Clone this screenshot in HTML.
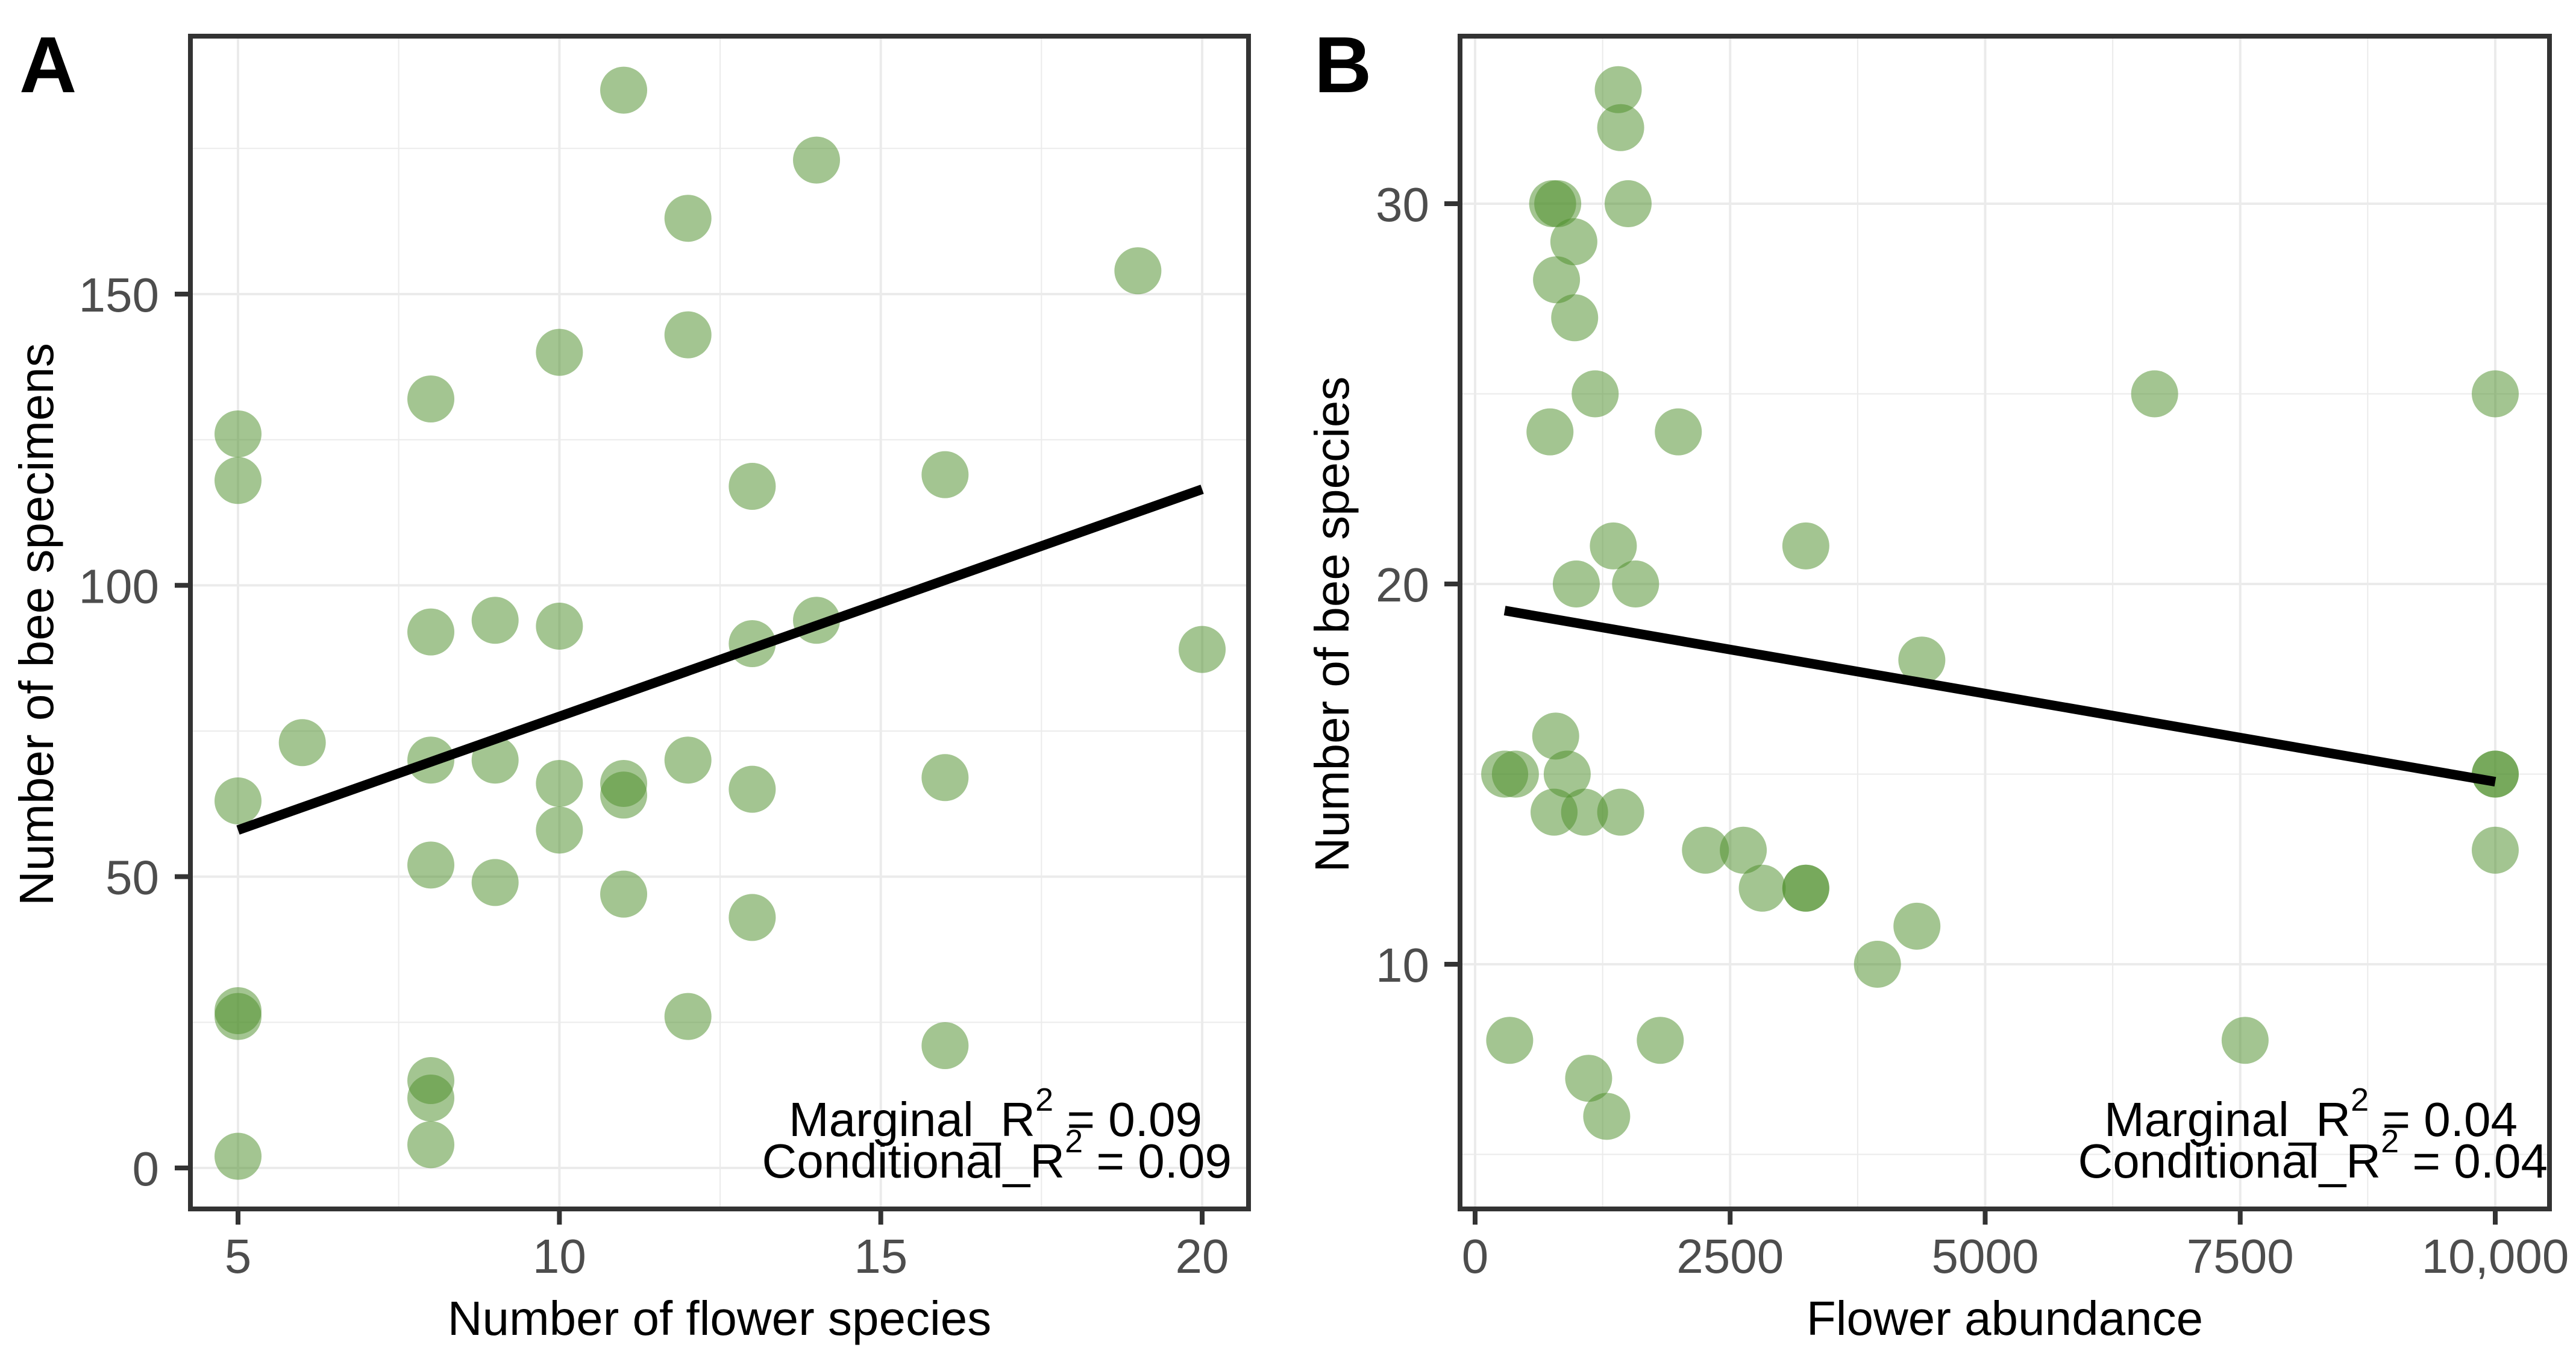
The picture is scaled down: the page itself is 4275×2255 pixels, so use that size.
<!DOCTYPE html>
<html><head><meta charset="utf-8"><style>
html,body{margin:0;padding:0;background:#fff;}
svg{display:block;font-family:"Liberation Sans",Arial,sans-serif;}
</style></head><body>
<svg id="chart" width="4275" height="2255" viewBox="0 0 4275 2255" xmlns="http://www.w3.org/2000/svg"></svg>
<script>
// Panel A data
const aFlowerSpecies = [11,14,12,19,12,10,8,5,5,16,13,8,9,10,14,13,20,6,5,8,9,10,11,11,12,13,16,10,8,9,11,13,5,5,12,16,8,8,8,5];
const aBeeSpecimens  = [185,173,163,154,143,140,132,126,118,119,117,92,94,93,94,90,89,73,63,70,70,66,66,64,70,65,67,58,52,49,47,43,27,26,26,21,15,12,4,2];
const aFitX = [5,20];
const aFitY = [58,116.5];
const aXTicks = [5,10,15,20];
const aYTicks = [0,50,100,150];
// Panel B data
const bFlowerAbundance = [1403,1427,1500,760,810,968,798,976,1177,734,1992,6661,10000,1355,3242,992,1573,4379,790,290,395,903,10000,10000,774,1073,1427,2258,2629,2815,3242,3242,4331,3944,339,1815,7548,1113,1290,10000];
const bBeeSpecies      = [33,32,30,30,30,29,28,27,25,24,24,25,25,21,21,20,20,18,16,15,15,15,15,15,14,14,14,13,13,12,12,12,11,10,8,8,8,7,6,13];
const bFitX = [290,10000];
const bFitY = [19.3,14.8];
const bXTicks = [0,2500,5000,7500,10000];
const bXTickLabels = ["0","2500","5000","7500","10,000"];
const bYTicks = [10,20,30];

const NS="http://www.w3.org/2000/svg";
const svg=document.getElementById('chart');
function mk(tag,attrs,parent){const e=document.createElementNS(NS,tag);for(const k in attrs)e.setAttribute(k,attrs[k]);(parent||svg).appendChild(e);return e;}

function panel(cfg){
  const g=mk('g',{});
  
  
  const {L,R,T,B}=cfg;
  const sx=v=>cfg.x0+(v-cfg.xv0)*cfg.xk;
  const sy=v=>cfg.y0-(v-cfg.yv0)*cfg.yk;
  for(const v of cfg.xMinor){const l=mk('line',{x1:sx(v),x2:sx(v),y1:T,y2:B,stroke:'#ebebeb','stroke-width':2},g);}
  for(const v of cfg.yMinor){const l=mk('line',{x1:L,x2:R,y1:sy(v),y2:sy(v),stroke:'#ebebeb','stroke-width':2},g);}
  for(const v of cfg.xTicks){const l=mk('line',{x1:sx(v),x2:sx(v),y1:T,y2:B,stroke:'#ebebeb','stroke-width':4},g);}
  for(const v of cfg.yTicks){const l=mk('line',{x1:L,x2:R,y1:sy(v),y2:sy(v),stroke:'#ebebeb','stroke-width':4},g);}
  for(let i=0;i<cfg.xs.length;i++){
    const c=mk('circle',{cx:sx(cfg.xs[i]),cy:sy(cfg.ys[i]),r:39,fill:'#4e8f2c','fill-opacity':0.52},g);
    
    
  }
  const fl=mk('line',{x1:sx(cfg.fitX[0]),y1:sy(cfg.fitY[0]),x2:sx(cfg.fitX[1]),y2:sy(cfg.fitY[1]),stroke:'#000','stroke-width':16},g);
  
  
  const fr=mk('rect',{x:L,y:T,width:R-L,height:B-T,fill:'none',stroke:'#333','stroke-width':8},g);
  
  
  cfg.xTicks.forEach((v,i)=>{
    const t=mk('line',{x1:sx(v),x2:sx(v),y1:B,y2:B+26,stroke:'#333','stroke-width':8},g);
    
    
    const tx=mk('text',{x:sx(v),y:2112,'text-anchor':'middle','font-size':80,fill:'#4d4d4d'},g);
    tx.textContent=cfg.xLabels?cfg.xLabels[i]:String(v);
    
    
  });
  cfg.yTicks.forEach(v=>{
    const t=mk('line',{x1:L-26,x2:L,y1:sy(v),y2:sy(v),stroke:'#333','stroke-width':8},g);
    
    
    const tx=mk('text',{x:cfg.yLabX,y:sy(v)+29,'text-anchor':'end','font-size':80,fill:'#4d4d4d'},g);
    tx.textContent=String(v);
    
    
  });
  const xt=mk('text',{x:(L+R)/2,y:2215,'text-anchor':'middle','font-size':80,fill:'#000'},g);
  xt.textContent=cfg.xTitle;
  
  
  const yt=mk('text',{x:0,y:0,'text-anchor':'middle','font-size':80,fill:'#000',transform:`translate(${cfg.yTitleX},${cfg.yTitleY}) rotate(-90)`},g);
  yt.textContent=cfg.yTitle;
  
  
  const pl=mk('text',{x:cfg.letterX,y:153,'font-size':132,'font-weight':'bold',fill:'#000'},g);
  pl.textContent=cfg.letter;
  
  
  const m=mk('text',{x:cfg.annX1,y:1885,'text-anchor':'end','font-size':80,fill:'#000'},g);
  m.innerHTML='Marginal_R<tspan dy="-42" font-size="54">2</tspan><tspan dy="42"> = '+cfg.r2+'</tspan>';
  
  
  const c=mk('text',{x:cfg.annX2,y:1954,'text-anchor':'end','font-size':80,fill:'#000'},g);
  c.innerHTML='Conditional_R<tspan dy="-42" font-size="54">2</tspan><tspan dy="42"> = '+cfg.r2+'</tspan>';
  
  
}

panel({name:'panel-a',L:316,R:2072,T:60,B:2006,
  x0:395,xv0:5,xk:106.67,y0:1938,yv0:0,yk:9.667,
  xTicks:aXTicks,yTicks:aYTicks,xMinor:[7.5,12.5,17.5],yMinor:[25,75,125,175],
  xs:aFlowerSpecies,ys:aBeeSpecimens,fitX:aFitX,fitY:aFitY,
  yLabX:264,xTitle:'Number of flower species',yTitle:'Number of bee specimens',
  yTitleX:88,yTitleY:1036,letter:'A',letterX:32,annX1:1995,annX2:2044,r2:'0.09'});
panel({name:'panel-b',L:2423,R:4231,T:60,B:2006,
  x0:2448,xv0:0,xk:0.1693,y0:1600,yv0:10,yk:63.1,
  xTicks:bXTicks,xLabels:bXTickLabels,yTicks:bYTicks,xMinor:[1250,3750,6250,8750],yMinor:[5,15,25],
  xs:bFlowerAbundance,ys:bBeeSpecies,fitX:bFitX,fitY:bFitY,
  yLabX:2372,xTitle:'Flower abundance',yTitle:'Number of bee species',
  yTitleX:2238,yTitleY:1036,letter:'B',letterX:2181,annX1:4178,annX2:4228,r2:'0.04'});
</script>
</body></html>
